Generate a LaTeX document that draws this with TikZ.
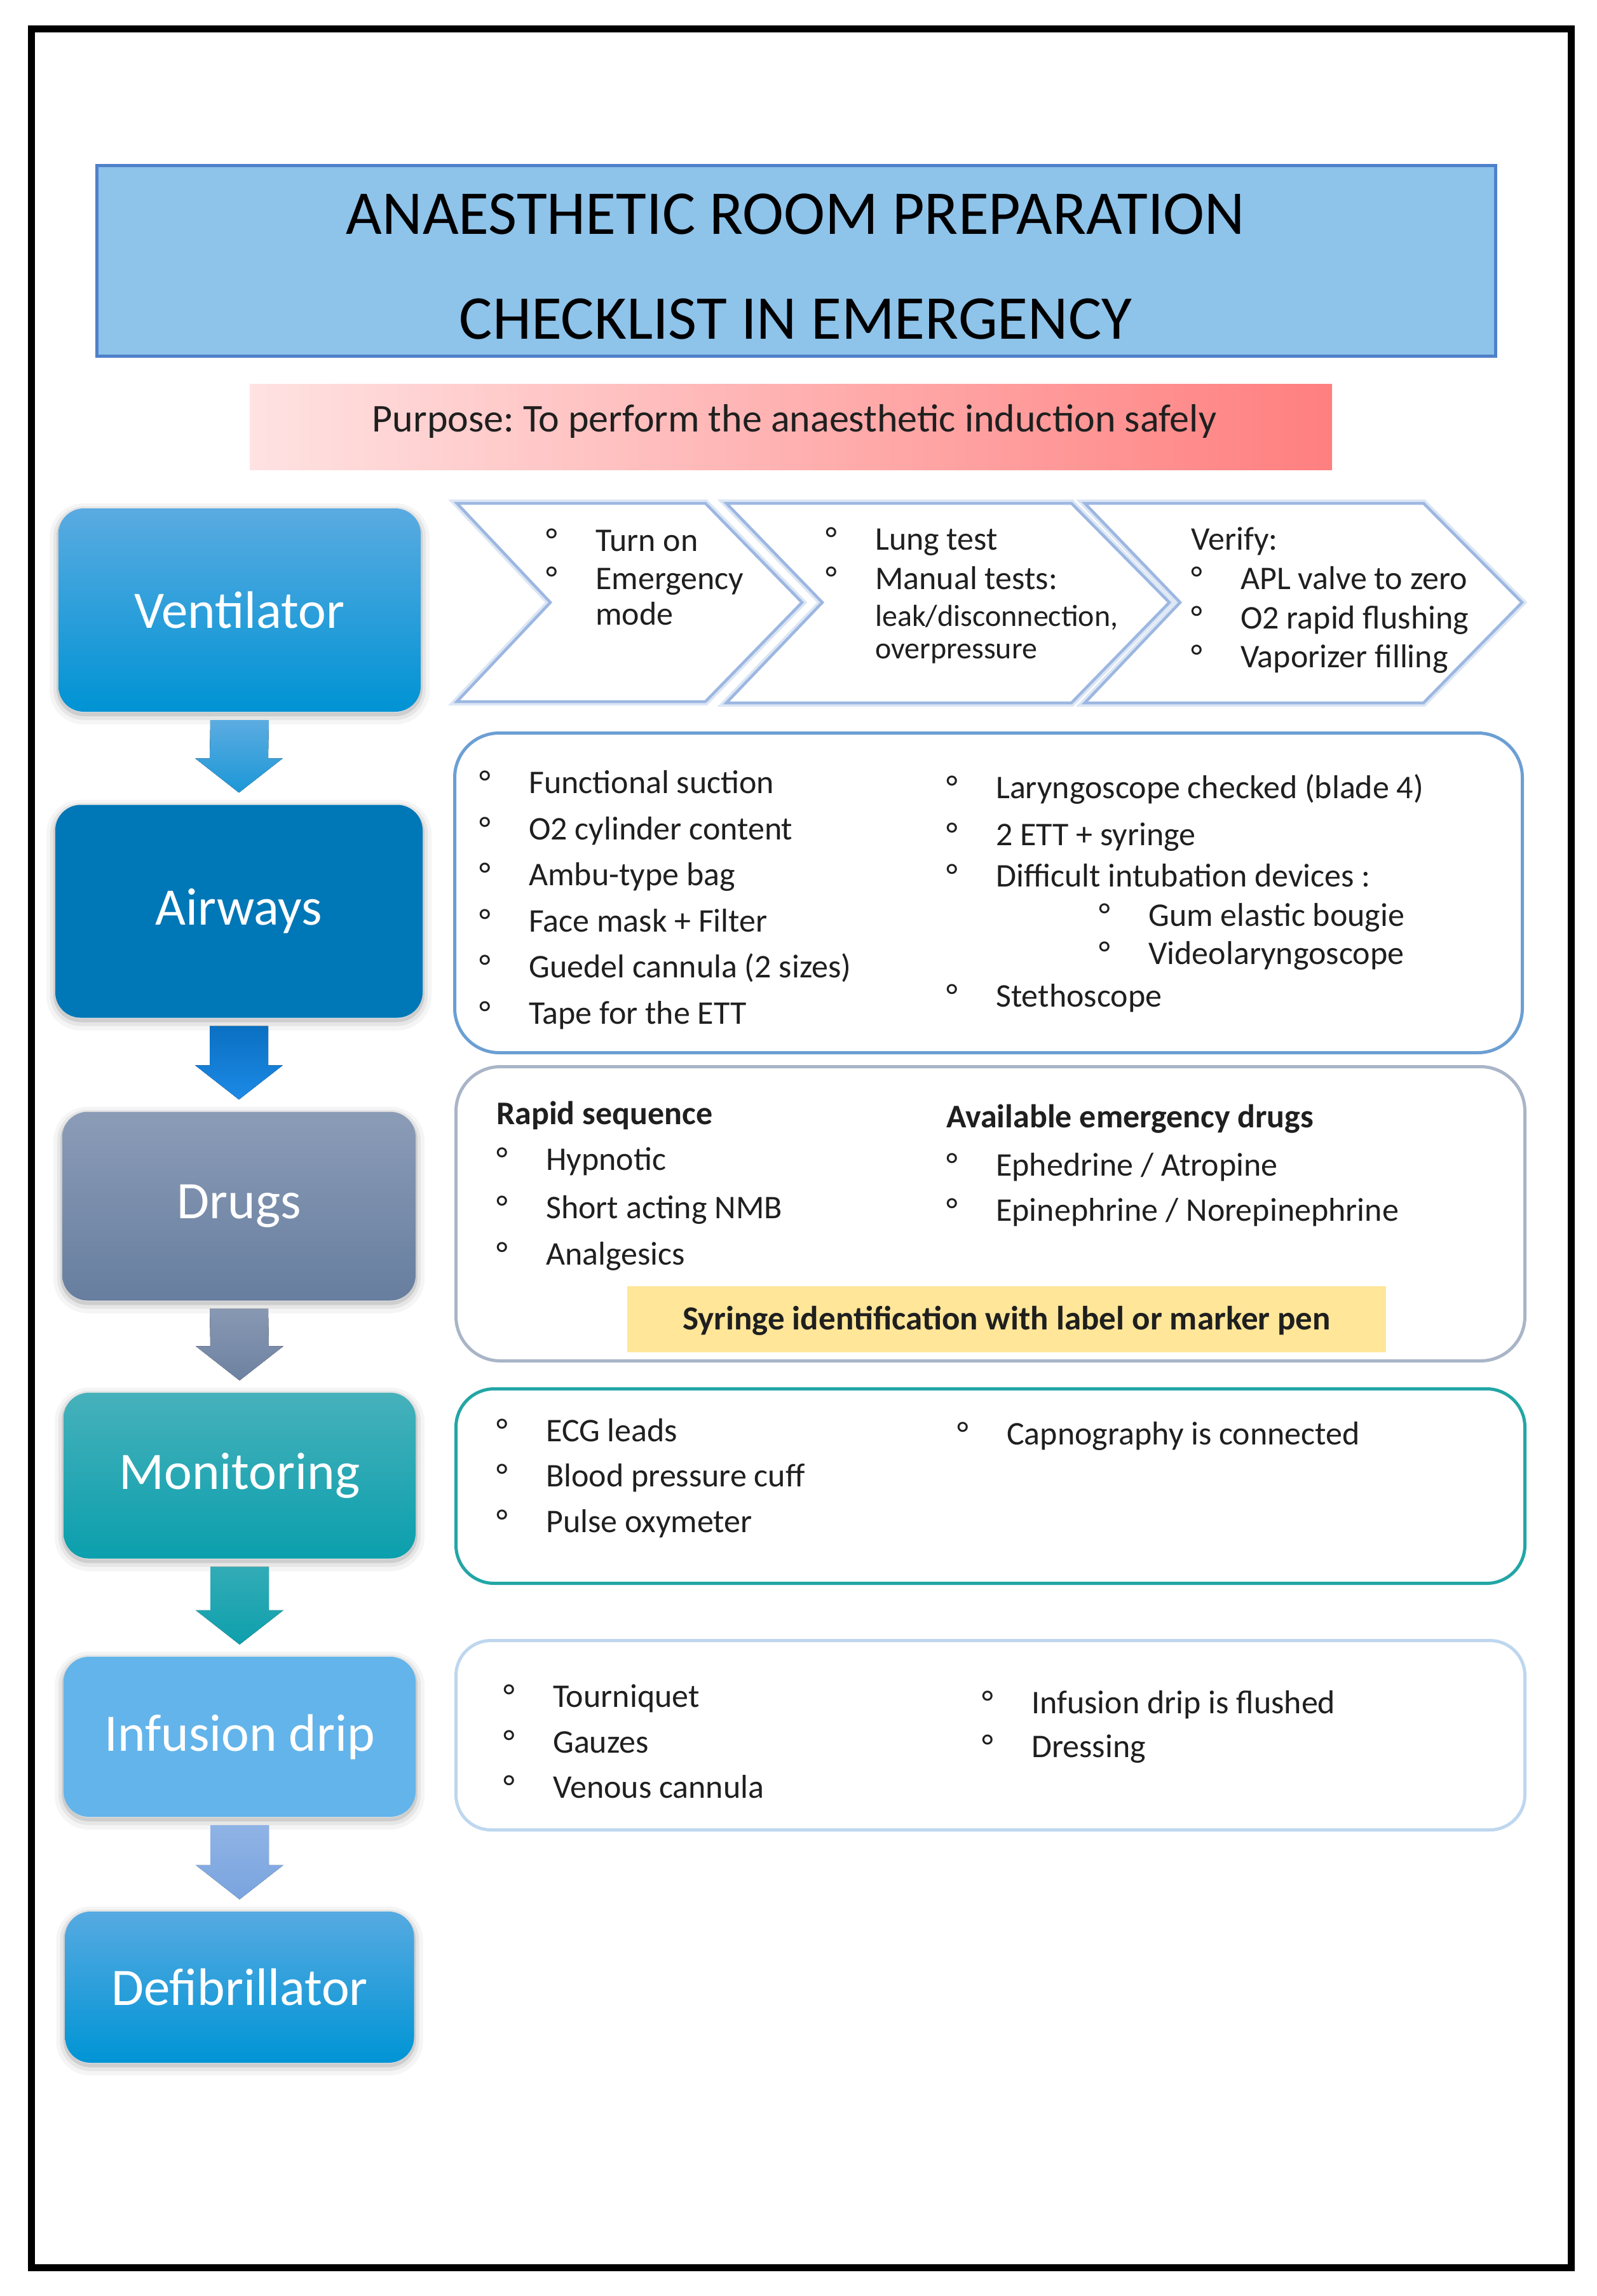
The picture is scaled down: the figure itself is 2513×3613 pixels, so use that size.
\documentclass[tikz,border=0pt]{standalone}
\usepackage{fontspec}
\setmainfont{Carlito}
\usetikzlibrary{calc}
\frenchspacing
\definecolor{titlefill}{HTML}{8EC3EA}
\definecolor{titledraw}{HTML}{4F81C9}
\definecolor{pinkL}{HTML}{FFE2E2}
\definecolor{pinkR}{HTML}{FF7F7F}
\definecolor{ventT}{HTML}{5AABE1}
\definecolor{ventB}{HTML}{0093D4}
\definecolor{airw}{HTML}{0077B7}
\definecolor{drugT}{HTML}{8B9CB7}
\definecolor{drugB}{HTML}{677E9F}
\definecolor{monT}{HTML}{46B1BB}
\definecolor{monB}{HTML}{0B9FAD}
\definecolor{infu}{HTML}{63B4EA}
\definecolor{defT}{HTML}{56AAE1}
\definecolor{defB}{HTML}{0094D5}
\definecolor{arrAT}{HTML}{5BACE1}
\definecolor{arrAB}{HTML}{1C97D7}
\definecolor{arrBT}{HTML}{0A70C2}
\definecolor{arrBB}{HTML}{1D8AE6}
\definecolor{arrCT}{HTML}{8898B3}
\definecolor{arrCB}{HTML}{6D82A1}
\definecolor{arrDT}{HTML}{32ACB6}
\definecolor{arrDB}{HTML}{0E9FAD}
\definecolor{arrET}{HTML}{8FB3E5}
\definecolor{arrEB}{HTML}{7AA4DF}
\definecolor{chev}{HTML}{9CB7E1}
\definecolor{airbox}{HTML}{6C9FD3}
\definecolor{drugbox}{HTML}{A9B5C7}
\definecolor{monbox}{HTML}{22A6A5}
\definecolor{infbox}{HTML}{BED7EF}
\definecolor{yellowbox}{HTML}{FFE699}
\definecolor{txt}{HTML}{1F1F1F}
\newcommand\bodyfont{\fontsize{52}{62}\selectfont}
\newcommand\li[4]{\node[item] (#1) at (#2-80,#3) {\makebox[80pt][l]{\hspace{2pt}°}#4};}
\newcommand\tx[4]{\node[item] (#1) at (#2,#3) {#4};}
\newcommand\blockarrow[4]{%
  \fill[top color=#3, bottom color=#4]
    ($(#1.south)+(-46,13)$) -- ($(#1.south)+(46,13)$) -- ($(#2.north)+(46,-73)$)
    -- ($(#2.north)+(69,-73)$) -- ($(#2.north)+(0,-19)$) -- ($(#2.north)+(-69,-73)$)
    -- ($(#2.north)+(-46,-73)$) -- cycle;}
\tikzset{
  shadowed/.style={
    preaction={draw=black, draw opacity=0.04, line width=28pt, transform canvas={yshift=-6pt}},
    preaction={draw=black, draw opacity=0.06, line width=16pt, transform canvas={yshift=-5pt}},
    preaction={draw=black, draw opacity=0.10, line width=6pt, transform canvas={yshift=-4pt}}},
  leftbox/.style={shadowed, rounded corners=40pt, inner sep=0pt, text=white,
    font=\fontsize{83}{90}\selectfont},
  item/.style={anchor=base west, inner sep=0pt, font=\bodyfont, text=txt},
  cbox/.style={anchor=north west, inner sep=0pt, line width=5pt, fill=white},
  chevron/.style={draw=chev, line width=4.5pt, fill=white, line join=miter,
    preaction={draw=chev!35, line width=12pt}}
}
\begin{document}
\begin{tikzpicture}[x=1pt,y=-1pt]
\useasboundingbox (0,0) rectangle (2513,3613);
\fill[white] (0,0) rectangle (2513,3613);
\draw[line width=11pt] (49,46) rectangle (2472,3568);

% title
\node[draw=titledraw, fill=titlefill, line width=5pt, anchor=north west,
  minimum width=2201pt, minimum height=300pt, inner sep=0pt] (title) at (150,258) {};
\node[anchor=base, inner sep=0pt, font=\fontsize{98}{102}\selectfont] (t1) at (1252,368) {ANAESTHETIC ROOM PREPARATION};
\node[anchor=base, inner sep=0pt, font=\fontsize{98}{102}\selectfont] (t2) at (1252,533) {CHECKLIST IN EMERGENCY};

% purpose
\node[left color=pinkL, right color=pinkR, anchor=north west,
  minimum width=1703pt, minimum height=135pt, inner sep=0pt] (purpose) at (393,604) {};
\node[anchor=base, inner sep=0pt, font=\fontsize{62}{66}\selectfont, text=txt] (purt) at (1250,679) {Purpose: To perform the anaesthetic induction safely};

% left column
\node[leftbox, top color=ventT, bottom color=ventB, minimum width=570pt, minimum height=320pt] (vent) at (377,960) {Ventilator};
\node[leftbox, fill=airw, minimum width=578pt, minimum height=335pt] (airways) at (376,1434) {Airways};
\node[leftbox, top color=drugT, bottom color=drugB, minimum width=556pt, minimum height=297pt] (drugs) at (376,1898) {Drugs};
\node[leftbox, top color=monT, bottom color=monB, minimum width=554pt, minimum height=261pt] (monit) at (377,2322) {Monitoring};
\node[leftbox, fill=infu, minimum width=554pt, minimum height=252pt] (infus) at (377,2733) {Infusion drip};
\node[leftbox, top color=defT, bottom color=defB, minimum width=549pt, minimum height=238pt] (defib) at (377,3127) {Defibrillator};

\blockarrow{vent}{airways}{arrAT}{arrAB}
\blockarrow{airways}{drugs}{arrBT}{arrBB}
\blockarrow{drugs}{monit}{arrCT}{arrCB}
\blockarrow{monit}{infus}{arrDT}{arrDB}
\blockarrow{infus}{defib}{arrET}{arrEB}

% chevrons
\draw[chevron] (719,792) -- (1110,792) -- (1262,948) -- (1110,1104) -- (719,1104) -- (866,948) -- cycle;
\draw[chevron] (1143,792) -- (1686,792) -- (1840,948) -- (1686,1106) -- (1143,1106) -- (1294,948) -- cycle;
\draw[chevron] (1707,792) -- (2240,792) -- (2395,948) -- (2240,1106) -- (1707,1106) -- (1857,948) -- cycle;

\li{c1a}{937}{867}{Turn on}
\li{c1b}{937}{927}{Emergency}
\tx{c1c}{937}{983}{mode}
\li{c2a}{1377}{865}{Lung test}
\li{c2b}{1377}{927}{Manual tests:}
\node[item, font=\fontsize{48}{56}\selectfont] (c2c) at (1377,985) {leak/disconnection,};
\node[item, font=\fontsize{48}{56}\selectfont] (c2d) at (1377,1036) {overpressure};
\tx{c3a}{1874}{865}{Verify:}
\li{c3b}{1952}{927}{APL valve to zero}
\li{c3c}{1952}{989}{O2 rapid flushing}
\li{c3d}{1952}{1050}{Vaporizer filling}

% airways box
\node[cbox, draw=airbox, rounded corners=70pt, minimum width=1680pt, minimum height=503pt] (airbx) at (713,1151) {};
\li{a1}{832}{1248}{Functional suction}
\li{a2}{832}{1321}{O2 cylinder content}
\li{a3}{832}{1393}{Ambu-type bag}
\li{a4}{832}{1466}{Face mask + Filter}
\li{a5}{832}{1538}{Guedel cannula (2 sizes)}
\li{a6}{832}{1611}{Tape for the ETT}
\li{a7}{1567}{1256}{Laryngoscope checked (blade 4)}
\li{a8}{1567}{1330}{2 ETT + syringe}
\li{a9}{1567}{1395}{Difficult intubation devices :}
\li{a10}{1807}{1457}{Gum elastic bougie}
\li{a11}{1807}{1517}{Videolaryngoscope}
\li{a12}{1567}{1584}{Stethoscope}

% drugs box
\node[cbox, draw=drugbox, rounded corners=70pt, minimum width=1682pt, minimum height=463pt] (drugbx) at (715,1676) {};
\node[item, font=\bodyfont\bfseries] (d0) at (781,1769) {Rapid sequence};
\node[item, font=\bodyfont\bfseries] (d00) at (1489,1774) {Available emergency drugs};
\li{d1}{859}{1841}{Hypnotic}
\li{d2}{859}{1917}{Short acting NMB}
\li{d3}{859}{1990}{Analgesics}
\li{d4}{1567}{1850}{Ephedrine / Atropine}
\li{d5}{1567}{1921}{Epinephrine / Norepinephrine}
\node[fill=yellowbox, anchor=north west, minimum width=1194pt, minimum height=104pt, inner sep=0pt] (syr) at (987,2024) {};
\node[anchor=base, inner sep=0pt, font=\fontsize{53}{62}\selectfont\bfseries, text=txt] (syrt) at (1584,2092) {Syringe identification with label or marker pen};

% monitoring box
\node[cbox, draw=monbox, rounded corners=60pt, minimum width=1682pt, minimum height=306pt] (monbx) at (715,2183) {};
\li{m1}{859}{2268}{ECG leads}
\li{m2}{859}{2339}{Blood pressure cuff}
\li{m3}{859}{2411}{Pulse oxymeter}
\li{m4}{1584}{2273}{Capnography is connected}

% infusion box
\node[cbox, draw=infbox, rounded corners=55pt, minimum width=1682pt, minimum height=298pt] (infbx) at (715,2579) {};
\li{i1}{870}{2686}{Tourniquet}
\li{i2}{870}{2758}{Gauzes}
\li{i3}{870}{2829}{Venous cannula}
\li{i4}{1623}{2696}{Infusion drip is flushed}
\li{i5}{1623}{2765}{Dressing}
\end{tikzpicture}
\end{document}
